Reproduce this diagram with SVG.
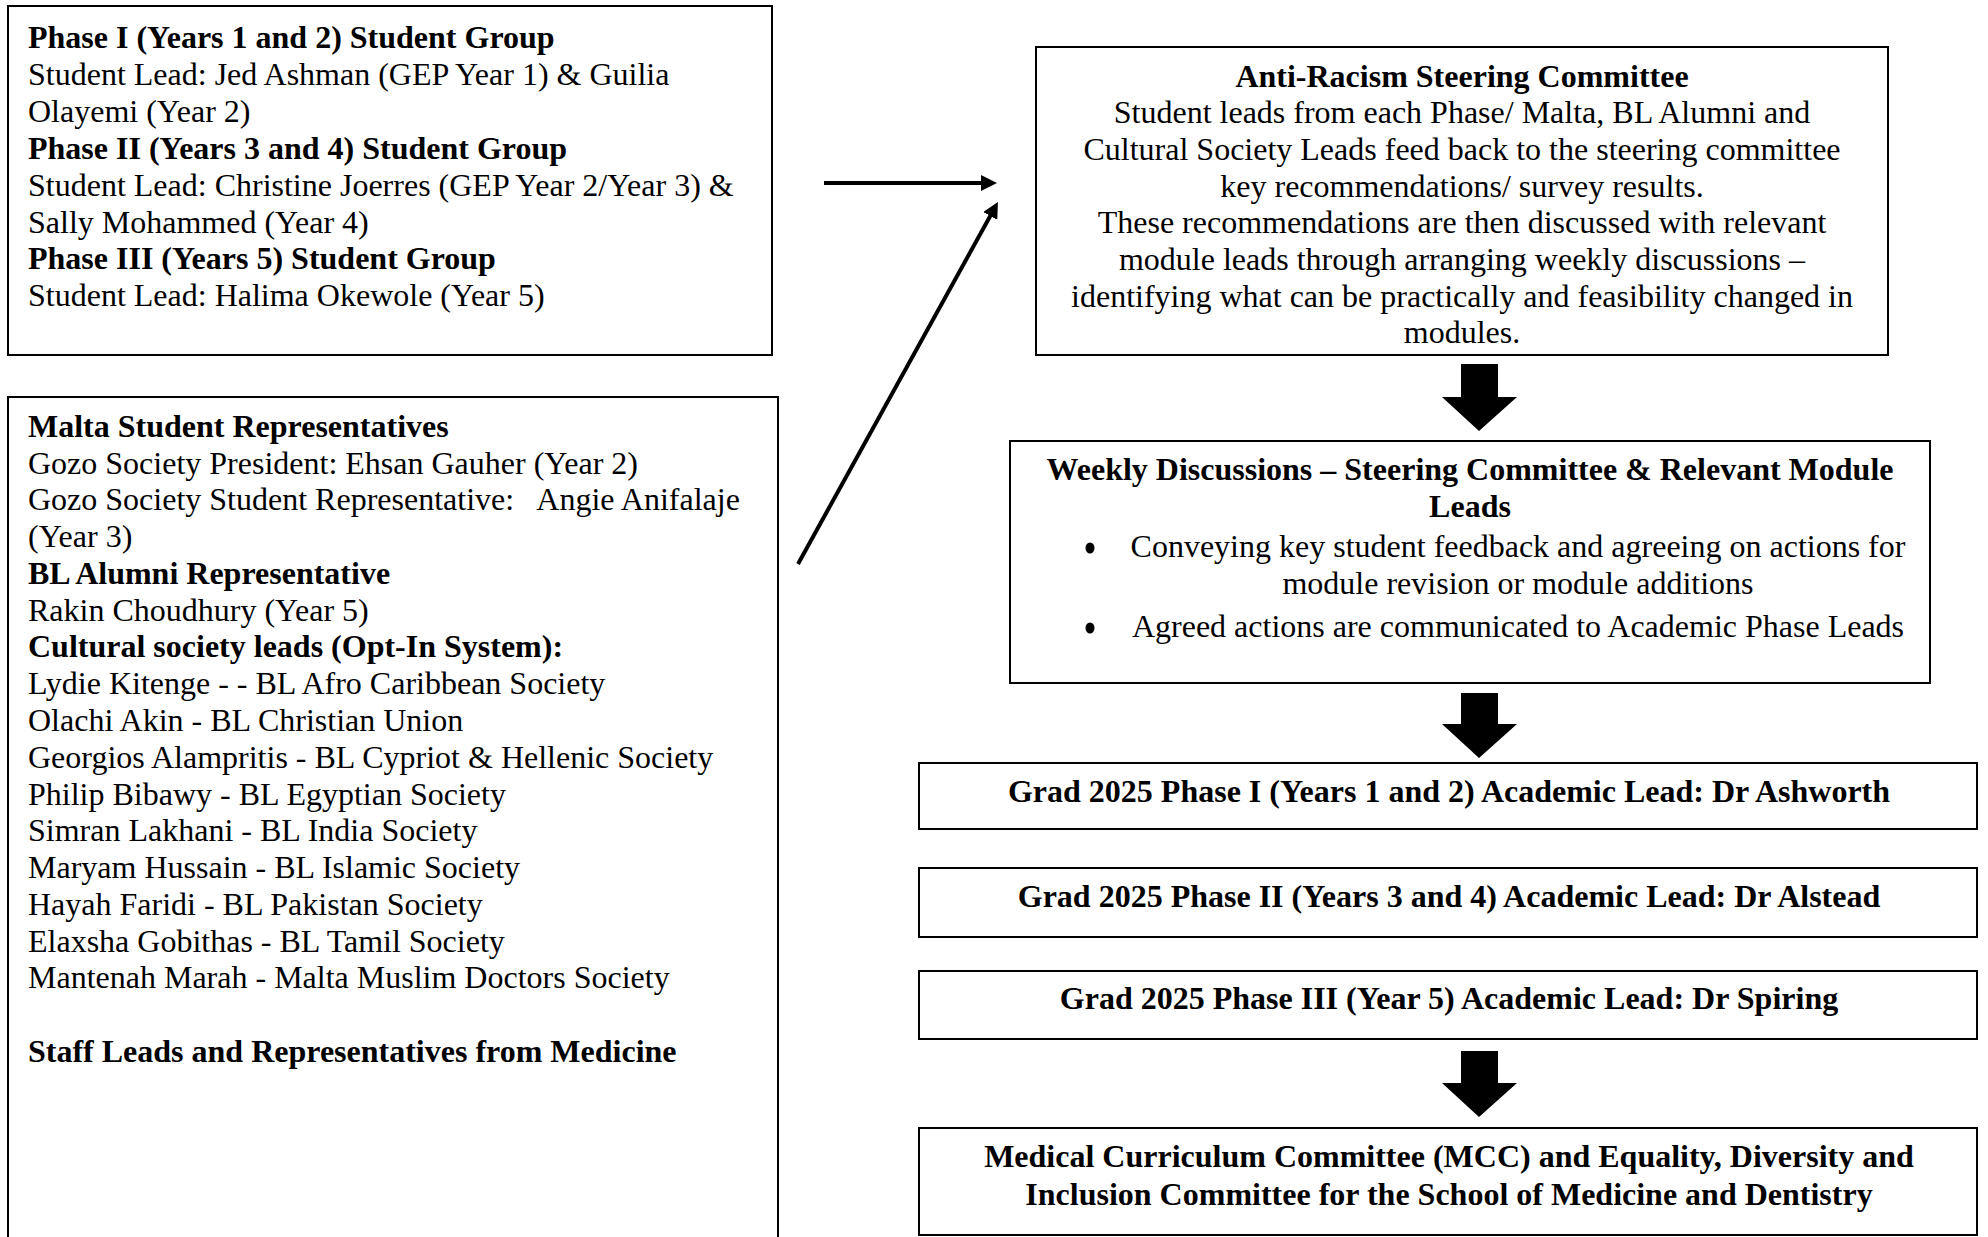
<svg xmlns="http://www.w3.org/2000/svg" width="1988" height="1237" viewBox="0 0 1988 1237">
<style>
.box{fill:#fff;stroke:#000;stroke-width:2}
text{font-family:"Liberation Serif","Times New Roman",serif;font-size:32px;fill:#000}
.b{font-weight:bold}
.c{text-anchor:middle}
.pre{white-space:pre}
.conn{stroke:#000;stroke-width:4;fill:none}
.blk{fill:#000}
.dot{fill:#000}
</style>
<defs>
<marker id="ah" markerUnits="userSpaceOnUse" viewBox="0 0 16 16" markerWidth="16" markerHeight="16" refX="8" refY="8" orient="auto">
<path d="M0,0 L16,8 L0,16 z" fill="#000"/>
</marker>
</defs>
<rect width="1988" height="1237" fill="#fff"/>

<g id="node-phase-groups">
<rect class="box" x="8" y="6" width="764" height="349"/>
<text x="28" y="48" class="b">Phase I (Years 1 and 2) Student Group</text>
<text x="28" y="85">Student Lead: Jed Ashman (GEP Year 1) &amp; Guilia</text>
<text x="28" y="122">Olayemi (Year 2)</text>
<text x="28" y="159" class="b">Phase II (Years 3 and 4) Student Group</text>
<text x="28" y="196">Student Lead: Christine Joerres (GEP Year 2/Year 3) &amp;</text>
<text x="28" y="233">Sally Mohammed (Year 4)</text>
<text x="28" y="269" class="b">Phase III (Years 5) Student Group</text>
<text x="28" y="306">Student Lead: Halima Okewole (Year 5)</text>
</g>

<g id="node-representatives">
<rect class="box" x="8" y="397" width="770" height="860"/>
<text x="28" y="437" class="b">Malta Student Representatives</text>
<text x="28" y="474">Gozo Society President: Ehsan Gauher (Year 2)</text>
<text x="28" y="510" class="pre">Gozo Society Student Representative:   Angie Anifalaje</text>
<text x="28" y="547">(Year 3)</text>
<text x="28" y="584" class="b">BL Alumni Representative</text>
<text x="28" y="621">Rakin Choudhury (Year 5)</text>
<text x="28" y="657" class="b">Cultural society leads (Opt-In System):</text>
<text x="28" y="694">Lydie Kitenge - - BL Afro Caribbean Society</text>
<text x="28" y="731">Olachi Akin - BL Christian Union</text>
<text x="28" y="768">Georgios Alampritis - BL Cypriot &amp; Hellenic Society</text>
<text x="28" y="805">Philip Bibawy - BL Egyptian Society</text>
<text x="28" y="841">Simran Lakhani - BL India Society</text>
<text x="28" y="878">Maryam Hussain - BL Islamic Society</text>
<text x="28" y="915">Hayah Faridi - BL Pakistan Society</text>
<text x="28" y="952">Elaxsha Gobithas - BL Tamil Society</text>
<text x="28" y="988">Mantenah Marah - Malta Muslim Doctors Society</text>
<text x="28" y="1062" class="b">Staff Leads and Representatives from Medicine</text>
</g>

<g id="node-steering">
<rect class="box" x="1036" y="47" width="852" height="308"/>
<text x="1462" y="87" class="b c">Anti-Racism Steering Committee</text>
<text x="1462" y="123" class="c">Student leads from each Phase/ Malta, BL Alumni and</text>
<text x="1462" y="160" class="c">Cultural Society Leads feed back to the steering committee</text>
<text x="1462" y="197" class="c">key recommendations/ survey results.</text>
<text x="1462" y="233" class="c">These recommendations are then discussed with relevant</text>
<text x="1462" y="270" class="c">module leads through arranging weekly discussions –</text>
<text x="1462" y="307" class="c">identifying what can be practically and feasibility changed in</text>
<text x="1462" y="343" class="c">modules.</text>
</g>

<g id="node-weekly">
<rect class="box" x="1010" y="441" width="920" height="242"/>
<text x="1470" y="480" class="b c">Weekly Discussions – Steering Committee &amp; Relevant Module</text>
<text x="1470" y="517" class="b c">Leads</text>
<ellipse class="dot" cx="1090" cy="548" rx="4.5" ry="5.5"/>
<text x="1518" y="557" class="c">Conveying key student feedback and agreeing on actions for</text>
<text x="1518" y="594" class="c">module revision or module additions</text>
<ellipse class="dot" cx="1090" cy="628" rx="4.5" ry="5.5"/>
<text x="1518" y="637" class="c">Agreed actions are communicated to Academic Phase Leads</text>
</g>

<g id="node-phase1-lead">
<rect class="box" x="919" y="763" width="1058" height="66"/>
<text x="1449" y="802" class="b c">Grad 2025 Phase I (Years 1 and 2) Academic Lead: Dr Ashworth</text>
</g>

<g id="node-phase2-lead">
<rect class="box" x="919" y="868" width="1058" height="69"/>
<text x="1449" y="907" class="b c">Grad 2025 Phase II (Years 3 and 4) Academic Lead: Dr Alstead</text>
</g>

<g id="node-phase3-lead">
<rect class="box" x="919" y="971" width="1058" height="68"/>
<text x="1449" y="1009" class="b c">Grad 2025 Phase III (Year 5) Academic Lead: Dr Spiring</text>
</g>

<g id="node-mcc">
<rect class="box" x="919" y="1128" width="1058" height="107"/>
<text x="1449" y="1167" class="b c">Medical Curriculum Committee (MCC) and Equality, Diversity and</text>
<text x="1449" y="1205" class="b c">Inclusion Committee for the School of Medicine and Dentistry</text>
</g>

<g id="connectors">
<line class="conn" x1="824" y1="183" x2="989" y2="183" marker-end="url(#ah)"/>
<line class="conn" x1="798" y1="564" x2="994.1" y2="209" marker-end="url(#ah)"/>
<path class="blk" d="M1461,364 H1498 V397 H1517 L1479,431 L1442,397 H1461 Z"/>
<path class="blk" d="M1461,693 H1498 V724 H1517 L1479,758 L1442,724 H1461 Z"/>
<path class="blk" d="M1461,1051 H1498 V1083 H1517 L1479,1117 L1442,1083 H1461 Z"/>
</g>
</svg>
